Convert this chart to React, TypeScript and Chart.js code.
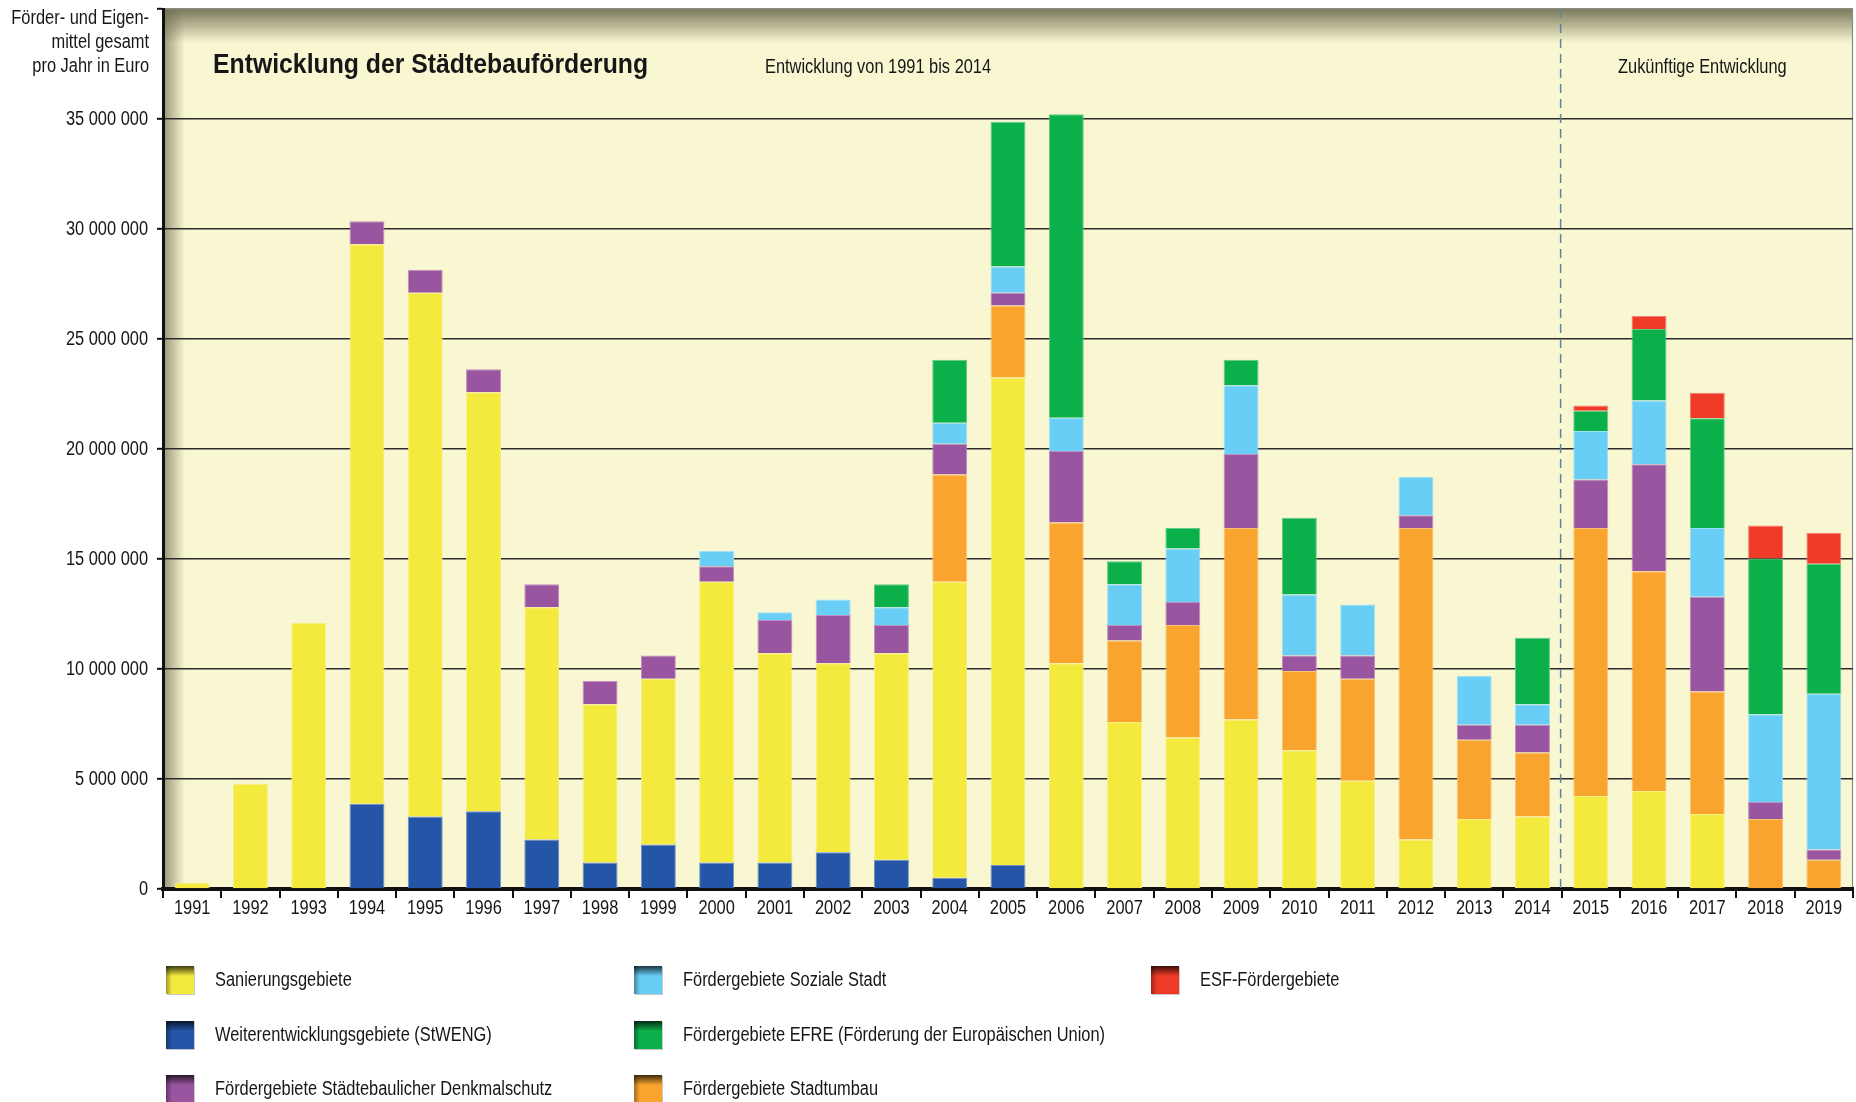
import React, { useEffect, useRef } from "react";
import { Chart, registerables } from "chart.js";

Chart.register(...registerables);

// ---------- data ----------
const years = [
  "1991", "1992", "1993", "1994", "1995", "1996", "1997", "1998", "1999", "2000",
  "2001", "2002", "2003", "2004", "2005", "2006", "2007", "2008", "2009", "2010",
  "2011", "2012", "2013", "2014", "2015", "2016", "2017", "2018", "2019",
];

const stweng = [
  0, 0, 0, 3880000, 3300000, 3530000, 2250000, 1210000, 2020000, 1210000,
  1210000, 1670000, 1330000, 510000, 1090000, 0, 0, 0, 0, 0,
  0, 0, 0, 0, 0, 0, 0, 0, 0,
];
const sanierung = [
  280000, 4780000, 12100000, 25430000, 23800000, 19050000, 10560000, 7190000, 7540000, 12760000,
  9510000, 8590000, 9390000, 13460000, 22160000, 10260000, 7590000, 6890000, 7710000, 6310000,
  4920000, 2250000, 3180000, 3300000, 4230000, 4460000, 3410000, 0, 0,
];
const stadtumbau = [
  0, 0, 0, 0, 0, 0, 0, 0, 0, 0,
  0, 0, 0, 4870000, 3270000, 6400000, 3710000, 5110000, 8700000, 3600000,
  4640000, 14160000, 3600000, 2900000, 12180000, 9980000, 5570000, 3180000, 1330000,
];
const denkmalschutz = [
  0, 0, 0, 1040000, 1050000, 1040000, 1040000, 1050000, 1050000, 700000,
  1510000, 2200000, 1280000, 1400000, 580000, 3250000, 700000, 1040000, 3360000, 700000,
  1050000, 580000, 690000, 1270000, 2200000, 4870000, 4300000, 770000, 460000,
];
const sozialeStadt = [
  0, 0, 0, 0, 0, 0, 0, 0, 0, 690000,
  350000, 700000, 810000, 950000, 1190000, 1510000, 1850000, 2440000, 3130000, 2780000,
  2320000, 1740000, 2210000, 930000, 2210000, 2900000, 3130000, 3990000, 7080000,
];
const efre = [
  0, 0, 0, 0, 0, 0, 0, 0, 0, 0,
  0, 0, 1040000, 2870000, 6590000, 13800000, 1050000, 930000, 1160000, 3480000,
  0, 0, 0, 3020000, 920000, 3250000, 4990000, 7080000, 5910000,
];
const esf = [
  0, 0, 0, 0, 0, 0, 0, 0, 0, 0,
  0, 0, 0, 0, 0, 0, 0, 0, 0, 0,
  0, 0, 0, 0, 240000, 580000, 1160000, 1500000, 1400000,
];

const yMax = 40000000;
const yStep = 5000000;

const titleText = "Entwicklung der Städtebauförderung";
const periodPast = "Entwicklung von 1991 bis 2014";
const periodFuture = "Zukünftige Entwicklung";
const yAxisTitle = ["Förder- und Eigen-", "mittel gesamt", "pro Jahr in Euro"];
const lastPastYear = "2014";

// dataset definitions (stack order bottom -> top)
const seriesDefs = [
  { key: "stweng", label: "Weiterentwicklungsgebiete (StWENG)", data: stweng, color: "#2455A7" },
  { key: "sanierung", label: "Sanierungsgebiete", data: sanierung, color: "#F4EA3E" },
  { key: "stadtumbau", label: "Fördergebiete Stadtumbau", data: stadtumbau, color: "#F8A42E" },
  { key: "denkmal", label: "Fördergebiete Städtebaulicher Denkmalschutz", data: denkmalschutz, color: "#9955A0" },
  { key: "soziale", label: "Fördergebiete Soziale Stadt", data: sozialeStadt, color: "#69CEF6" },
  { key: "efre", label: "Fördergebiete EFRE (Förderung der Europäischen Union)", data: efre, color: "#0CB04B" },
  { key: "esf", label: "ESF-Fördergebiete", data: esf, color: "#EE3A26" },
];
// legend order (column-major, 3 rows)
const legendOrder = ["sanierung", "stweng", "denkmal", "soziale", "efre", "stadtumbau", "esf"];

const FONT = "'Liberation Sans', Arial, sans-serif";
const CONDENSE = 0.82;
const TEXT = "#161616";

function fmt(v: number): string {
  return String(Math.round(v)).replace(/\B(?=(\d{3})+(?!\d))/g, " ");
}

function lighten(hex: string, t: number): string {
  const n = parseInt(hex.slice(1), 16);
  const r = (n >> 16) & 255;
  const g = (n >> 8) & 255;
  const b = n & 255;
  const m = (c: number) => Math.round(c + (255 - c) * t);
  return `rgb(${m(r)},${m(g)},${m(b)})`;
}

function drawText(
  ctx: CanvasRenderingContext2D,
  text: string,
  x: number,
  y: number,
  font: string,
  align: CanvasTextAlign,
  k: number = CONDENSE
) {
  ctx.save();
  ctx.font = font;
  ctx.fillStyle = TEXT;
  ctx.textAlign = align;
  ctx.textBaseline = "middle";
  ctx.translate(x, y);
  ctx.scale(k, 1);
  ctx.fillText(text, 0, 0);
  ctx.restore();
}

const bgPlugin = {
  id: "bgPlugin",
  beforeDraw(chart: any) {
    const { ctx, chartArea: a } = chart;
    ctx.save();
    ctx.fillStyle = "#F9F6D2";
    ctx.fillRect(a.left, a.top, a.right - a.left, a.bottom - a.top);
    let g = ctx.createLinearGradient(0, a.top, 0, a.top + 34);
    g.addColorStop(0, "rgba(110,108,80,0.9)");
    g.addColorStop(1, "rgba(110,108,80,0)");
    ctx.fillStyle = g;
    ctx.fillRect(a.left, a.top, a.right - a.left, 34);
    g = ctx.createLinearGradient(a.left, 0, a.left + 22, 0);
    g.addColorStop(0, "rgba(110,108,80,0.7)");
    g.addColorStop(1, "rgba(110,108,80,0)");
    ctx.fillStyle = g;
    ctx.fillRect(a.left, a.top, 22, a.bottom - a.top);
    ctx.strokeStyle = "#8a8a80";
    ctx.lineWidth = 1.2;
    ctx.beginPath();
    ctx.moveTo(a.right - 0.5, a.top);
    ctx.lineTo(a.right - 0.5, a.bottom);
    ctx.stroke();
    ctx.restore();
  },
};

const overlayPlugin = {
  id: "overlayPlugin",
  afterDraw(chart: any) {
    const { ctx, chartArea: a } = chart;
    const xs = chart.scales.x;
    const ys = chart.scales.y;
    ctx.save();

    // dashed separator between past and future
    const idx = years.indexOf(lastPastYear);
    const sx = (xs.getPixelForValue(idx) + xs.getPixelForValue(idx + 1)) / 2 - 1;
    ctx.strokeStyle = "#5a86a6";
    ctx.lineWidth = 1.5;
    ctx.setLineDash([9, 6]);
    ctx.beginPath();
    ctx.moveTo(sx, a.top);
    ctx.lineTo(sx, a.bottom);
    ctx.stroke();
    ctx.setLineDash([]);

    // y tick labels
    ys.ticks.forEach((t: any) => {
      if (t.value >= yMax) return;
      drawText(ctx, fmt(t.value), a.left - 15, ys.getPixelForValue(t.value), `20px ${FONT}`, "right");
    });
    // x tick labels
    chart.data.labels.forEach((lab: string, i: number) => {
      drawText(ctx, lab, xs.getPixelForValue(i), a.bottom + 19, `20px ${FONT}`, "center");
    });

    // title and period labels
    drawText(ctx, titleText, 213, 65, `bold 28px ${FONT}`, "left", 0.885);
    drawText(ctx, periodPast, 765, 67, `20px ${FONT}`, "left");
    drawText(ctx, periodFuture, 1618, 67, `20px ${FONT}`, "left");

    // y axis title
    yAxisTitle.forEach((t, i) => drawText(ctx, t, 149, 18 + i * 24, `20px ${FONT}`, "right"));

    // legend
    const colX = [166, 634, 1151];
    const rowY = [980, 1035, 1089];
    legendOrder.forEach((key, i) => {
      const ds = chart.data.datasets.find((d: any) => d.key === key);
      if (!ds) return;
      const col = Math.floor(i / 3);
      const row = i % 3;
      const x = colX[col];
      const y = rowY[row] - 14;
      const s = 28;
      ctx.fillStyle = "#c8c8c8";
      ctx.fillRect(x + 1, y + 1, s, s);
      ctx.fillStyle = ds.backgroundColor;
      ctx.fillRect(x, y, s, s);
      let g = ctx.createLinearGradient(0, y, 0, y + 10);
      g.addColorStop(0, "rgba(0,0,0,0.75)");
      g.addColorStop(1, "rgba(0,0,0,0)");
      ctx.fillStyle = g;
      ctx.fillRect(x, y, s, 10);
      g = ctx.createLinearGradient(x, 0, x + 6, 0);
      g.addColorStop(0, "rgba(0,0,0,0.35)");
      g.addColorStop(1, "rgba(0,0,0,0)");
      ctx.fillStyle = g;
      ctx.fillRect(x, y, 6, s);
      drawText(ctx, ds.label, x + 49, rowY[row], `20px ${FONT}`, "left");
    });
    ctx.restore();
  },
};

export default function App() {
  const ref = useRef<HTMLCanvasElement | null>(null);

  useEffect(() => {
    document.body.style.margin = "0";
    const canvas = ref.current;
    if (!canvas) return;
    const chart = new Chart(canvas, {
      type: "bar",
      data: {
        labels: years,
        datasets: seriesDefs.map((s) => ({
          key: s.key,
          label: s.label,
          data: s.data,
          backgroundColor: s.color,
          borderColor: lighten(s.color, 0.35),
          borderWidth: 1,
          borderSkipped: "start",
          categoryPercentage: 1,
          barPercentage: 0.6,
        })) as any,
      },
      options: {
        responsive: false,
        animation: false,
        devicePixelRatio: 1,
        layout: { padding: { top: 9, right: 3, left: 0, bottom: 0 } },
        plugins: {
          legend: { display: false },
          tooltip: { enabled: false },
          title: { display: false },
        },
        scales: {
          x: {
            stacked: true,
            grid: {
              drawOnChartArea: false,
              drawTicks: true,
              tickLength: 9,
              color: "#111",
              lineWidth: 2,
              offset: true,
            },
            border: { display: true, color: "#111", width: 4 },
            ticks: { display: false, autoSkip: false },
            afterFit: (s: any) => {
              s.height = 213;
              s.paddingLeft = 0;
              s.paddingRight = 0;
            },
          } as any,
          y: {
            stacked: true,
            min: 0,
            max: yMax,
            ticks: { display: false, stepSize: yStep },
            grid: {
              color: (c: any) => (c.tick && c.tick.value === yMax ? "#8a8a80" : "#2c2c2c"),
              lineWidth: 1.6,
              tickLength: 6,
              tickColor: "#111",
              tickWidth: 2,
            },
            border: { color: "#111", width: 3 },
            afterFit: (s: any) => {
              s.width = 163;
              s.paddingTop = 0;
              s.paddingBottom = 0;
            },
          } as any,
        },
      },
      plugins: [bgPlugin, overlayPlugin],
    });
    return () => chart.destroy();
  }, []);

  return (
    <div style={{ position: "absolute", left: 0, top: 0, width: 1856, height: 1102, background: "#fff" }}>
      <canvas ref={ref} width={1856} height={1102} style={{ display: "block" }} />
    </div>
  );
}
